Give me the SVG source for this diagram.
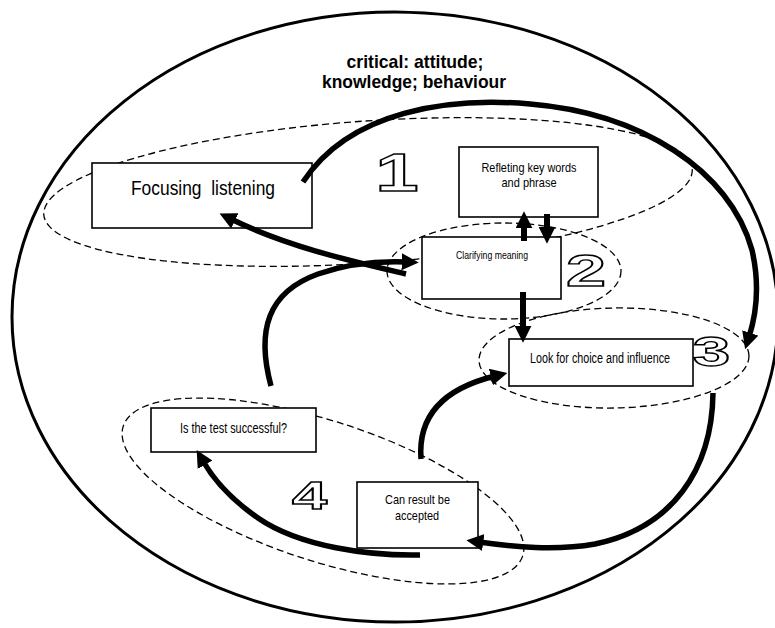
<svg xmlns="http://www.w3.org/2000/svg" width="775" height="628" viewBox="0 0 775 628">
  <style>
    .box { fill: #ffffff; stroke: #000000; stroke-width: 1.6; }
    .dash { fill: none; stroke: #000000; stroke-width: 1.3; stroke-dasharray: 7 4; }
    .outer { fill: none; stroke: #000000; stroke-width: 3; }
    .lbl { font-family: "Liberation Sans Narrow", "Liberation Sans", Arial, sans-serif; fill: #000000; text-anchor: middle; }
    .title { font-family: "Liberation Sans Narrow", "Liberation Sans", Arial, sans-serif; font-weight: bold; font-size: 19px; fill: #000000; text-anchor: middle; }
    .num { font-family: "Liberation Sans", Arial, sans-serif; font-weight: bold; fill: #ffffff; stroke: #000000; stroke-width: 1.8; text-anchor: middle; }
    .arr { fill: none; stroke: #000000; stroke-width: 5.5; marker-end: url(#ah); }
    .arrS { fill: none; stroke: #000000; stroke-width: 6; marker-end: url(#ah); }
  </style>
  <defs>
    <marker id="ah" markerUnits="userSpaceOnUse" markerWidth="17" markerHeight="17" viewBox="0 0 16 16" refX="4" refY="8" orient="auto">
      <path d="M0,0 L16,8 L0,16 z" fill="#000000"/>
    </marker>
  </defs>

  <rect x="0" y="0" width="775" height="628" fill="#ffffff"/>

  <g id="outer-boundary">
    <ellipse class="outer" cx="395" cy="317" rx="383" ry="305"/>
  </g>

  <g id="title">
    <text class="title" x="415" y="68" textLength="137" lengthAdjust="spacingAndGlyphs">critical: attitude;</text>
    <text class="title" x="414" y="88" textLength="184" lengthAdjust="spacingAndGlyphs">knowledge; behaviour</text>
  </g>

  <g id="stage-groups">
    <ellipse id="stage1-area" class="dash" cx="368" cy="192" rx="325" ry="71" transform="rotate(-4 368 192)"/>
    <ellipse id="stage2-area" class="dash" cx="504" cy="271" rx="117" ry="48"/>
    <ellipse id="stage3-area" class="dash" cx="614" cy="358" rx="135" ry="50" transform="rotate(-1 614 358)"/>
    <ellipse id="stage4-area" class="dash" cx="323" cy="491" rx="210" ry="70" transform="rotate(18 323 491)"/>
  </g>

  <g id="focusing-listening">
    <rect class="box" x="92" y="163" width="220" height="65"/>
    <text class="lbl" x="203" y="195" font-size="20" textLength="144" lengthAdjust="spacingAndGlyphs" xml:space="preserve" style="white-space:pre">Focusing  listening</text>
  </g>

  <g id="reflecting">
    <rect class="box" x="459" y="147" width="139" height="70"/>
    <text class="lbl" x="529" y="172" font-size="13" textLength="95" lengthAdjust="spacingAndGlyphs">Refleting key words</text>
    <text class="lbl" x="529" y="187" font-size="13" textLength="55" lengthAdjust="spacingAndGlyphs">and phrase</text>
  </g>

  <g id="clarifying">
    <rect class="box" x="422" y="237" width="139" height="62"/>
    <text class="lbl" x="492" y="259" font-size="11" textLength="72" lengthAdjust="spacingAndGlyphs">Clarifying meaning</text>
  </g>

  <g id="look-for-choice">
    <rect class="box" x="509" y="339" width="184" height="47"/>
    <text class="lbl" x="600" y="363" font-size="14" textLength="140" lengthAdjust="spacingAndGlyphs">Look for choice and influence</text>
  </g>

  <g id="test-successful">
    <rect class="box" x="151" y="408" width="165" height="44"/>
    <text class="lbl" x="233.5" y="433" font-size="14" textLength="107" lengthAdjust="spacingAndGlyphs">Is the test successful?</text>
  </g>

  <g id="result-accepted">
    <rect class="box" x="357" y="482" width="121" height="66"/>
    <text class="lbl" x="417.5" y="504" font-size="13.5" textLength="65" lengthAdjust="spacingAndGlyphs">Can result be</text>
    <text class="lbl" x="417" y="520" font-size="13.5" textLength="44" lengthAdjust="spacingAndGlyphs">accepted</text>
  </g>

  <g id="stage-numbers">
    <text class="num" font-size="53" transform="translate(397,191) scale(1.46,1)" vector-effect="non-scaling-stroke">1</text>
    <text class="num" font-size="45" transform="translate(586,286) scale(1.6,1)" vector-effect="non-scaling-stroke">2</text>
    <text class="num" font-size="42" transform="translate(711.5,366) scale(1.6,1)" vector-effect="non-scaling-stroke">3</text>
    <text class="num" font-size="39" transform="translate(309.5,509) scale(1.62,1)" vector-effect="non-scaling-stroke">4</text>
  </g>

  <g id="connectors">
    <path class="arr" d="M303,182 C350,110 450,97 530,104 C640,113 730,170 752,250 C760,285 757,312 749,337"/>
    <path class="arr" d="M406,274 C360,263 290,248 231,219"/>
    <path class="arr" d="M271,386 C256,330 268,292 318,274 C350,263 380,261 406,262"/>
    <path class="arrS" d="M524,241 L524,224"/>
    <path class="arrS" d="M547,214 L547,231"/>
    <path class="arrS" d="M523,292 L523,330"/>
    <path class="arr" d="M421,459 C418,420 438,390 495,376"/>
    <path class="arr" d="M713,393 C712,470 672,528 595,544 C555,551 515,547 479,542"/>
    <path class="arr" d="M420,555 C370,556 300,547 258,518 C235,502 215,482 203,461"/>
  </g>
</svg>
